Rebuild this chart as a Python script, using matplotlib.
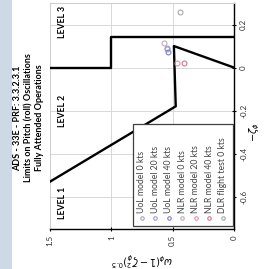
import matplotlib
matplotlib.use('Agg')
import matplotlib.pyplot as plt
from matplotlib.patches import Rectangle

plt.rcParams['font.family'] = ['Lato', 'DejaVu Sans']
plt.rcParams['mathtext.fontset'] = 'dejavusans'

# level boundaries (x = omega*(1-zeta^2)^0.5, y = -zeta)
lvl23_w = [1.5, 1.0, 1.0, 0.0]
lvl23_z = [0.0, 0.0, 0.14, 0.14]
lvl12_w = [1.5, 0.475, 0.49, 0.0]
lvl12_z = [-0.53, -0.18, 0.10, 0.0]

# model / flight test points
names = ['UoL model 0 kts', 'UoL model 20 kts', 'UoL model 40 kts',
         'NLR model 0 kts', 'NLR model 20 kts', 'NLR model 40 kts',
         'DLR flight test 0 kts']
pt_w = [0.55, 0.545, 0.535, 0.57, 0.465, 0.41, 0.44]
pt_z = [0.085, 0.093, 0.074, 0.116, 0.023, 0.023, 0.256]
colors = ['#a8a8b8', '#9a9ad0', '#7f7fc4', '#c4a8b8', '#e490a8', '#d87098', '#a8a8a8']

level_names = ['LEVEL 1', 'LEVEL 2', 'LEVEL 3']
level_z = [-0.63, -0.2, 0.214]

fig = plt.figure(figsize=(2.67, 2.69), dpi=100)
fig.patch.set_facecolor('white')
fig.patches.append(Rectangle((0, 0), 12 / 267, 1, transform=fig.transFigure,
                             facecolor='#cdd9e5', edgecolor='none', zorder=0))

ax = fig.add_axes([50 / 267, 40 / 269, 184 / 267, 226 / 269])
ax.set_xlim(1.5, 0)
ax.set_ylim(-0.75, 0.3)
ax.set_xticks([1.5, 1.0, 0.5, 0.0])
ax.set_xticklabels(['1.5', '1', '0.5', '0'])
ax.set_yticks([-0.6, -0.4, -0.2, 0.0, 0.2])
ax.set_yticklabels(['-0.6', '-0.4', '-0.2', '0', '0.2'])
ax.yaxis.tick_right()
ax.grid(True, color='#d8d8d8', lw=0.7)
ax.set_axisbelow(True)
for t in ax.get_xticklabels() + ax.get_yticklabels():
    t.set_rotation(90)
    t.set_fontsize(5.8)
    t.set_color('#333333')
for t in ax.get_yticklabels():
    t.set_va('center')
ax.tick_params(length=3, width=0.8, direction='inout', pad=3)
ax.spines['left'].set_color('#d0d0d0')
ax.spines['top'].set_color('#d0d0d0')
ax.spines['right'].set_linewidth(1.0)
ax.spines['bottom'].set_linewidth(1.0)

ax.plot(lvl23_w, lvl23_z, color='black', lw=1.7, zorder=3)
ax.plot(lvl12_w, lvl12_z, color='black', lw=1.7, zorder=3)

for w, z, c in zip(pt_w, pt_z, colors):
    ax.plot(w, z, 'o', mfc='none', mec=c, ms=3.5, mew=0.8, zorder=4)

for name, z in zip(level_names, level_z):
    ax.text(1.40, z, name, rotation=90, ha='center', va='center',
            fontsize=6.2, fontweight='bold')

# legend drawn by hand so the text can be rotated like the rest
ax.add_patch(Rectangle((0.451, 0.013), 0.544, 0.452, transform=ax.transAxes,
                       facecolor='white', edgecolor='#404040', lw=0.9, zorder=5))
for i, (name, c) in enumerate(zip(names, colors)):
    x = 0.5 + i * 0.073
    ax.plot(x, 0.049, 'o', mfc='none', mec=c, ms=2.5, mew=0.8,
            transform=ax.transAxes, zorder=6)
    ax.text(x, 0.072, name, rotation=90, ha='center', va='bottom',
            fontsize=6.2, color='#444444', transform=ax.transAxes, zorder=6)

ax.text(1.115, 0.43, r'$-\zeta_\phi$', rotation=90, ha='center', va='center',
        fontsize=7, transform=ax.transAxes)
ax.text(0.5, -0.13, r'$\omega_\phi(1-\zeta_\phi^2)^{0.5}$', rotation=180,
        ha='center', va='center', fontsize=7, transform=ax.transAxes)

title = ['ADS - 33E - PRF: 3.3.2.3.1',
         'Limits on Pitch (roll) Oscillations',
         'Fully Attended Operations']
for k, line in enumerate(title):
    fig.text((18 + 11 * k) / 267, 1 - 118 / 269, line, rotation=90,
             ha='center', va='center', fontsize=6.5, fontweight='bold')

fig.savefig('out.png', dpi=100, facecolor=fig.get_facecolor())
